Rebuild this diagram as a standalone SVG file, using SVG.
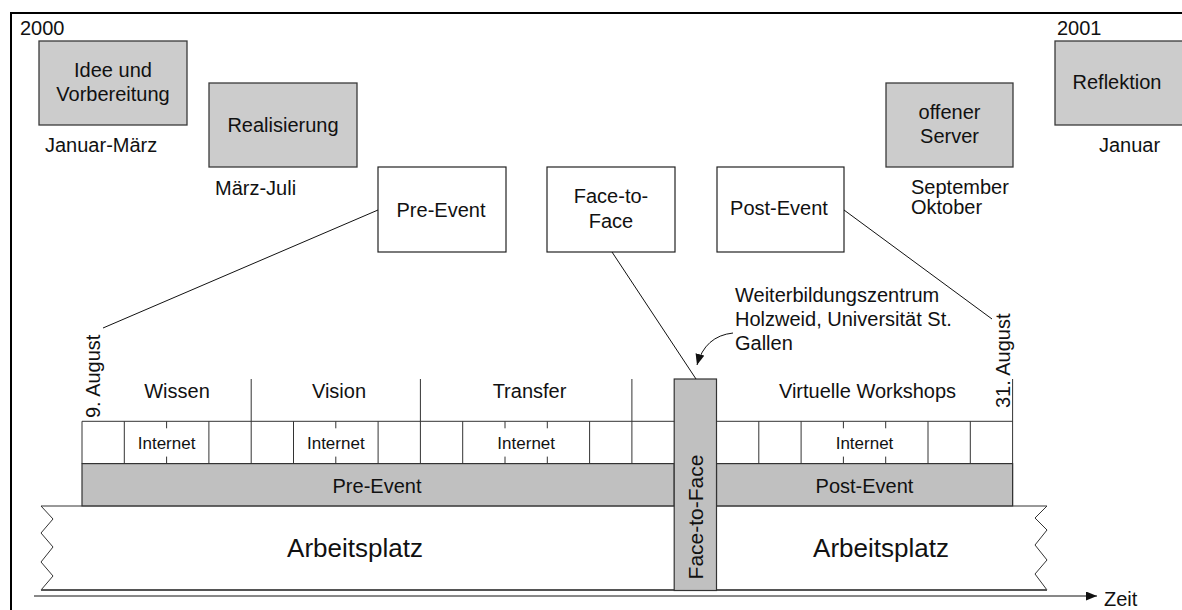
<svg xmlns="http://www.w3.org/2000/svg" width="1182" height="610" viewBox="0 0 1182 610">
  <style>
    text { font-family: "Liberation Sans", Arial, sans-serif; fill: #111; }
    .t20 { font-size: 20px; }
    .t17 { font-size: 17px; }
    .t26 { font-size: 26px; }
    .mid { text-anchor: middle; }
    .gbox { fill: #cccccc; stroke: #3a3a3a; stroke-width: 1.3; }
    .wbox { fill: #ffffff; stroke: #222222; stroke-width: 1.2; }
    .band { fill: #c0c0c0; stroke: #333333; stroke-width: 1.2; }
    .grid { stroke: #333333; stroke-width: 1; fill: none; }
    .conn { stroke: #111111; stroke-width: 1; fill: none; }
    .frame { stroke: #000000; stroke-width: 2; fill: none; }
  </style>
  <defs>
    <marker id="arrowHead" markerUnits="userSpaceOnUse" markerWidth="12" markerHeight="10" refX="11" refY="4.5" orient="auto">
      <path d="M0,0 L11,4.5 L0,9 z" fill="#111111"/>
    </marker>
  </defs>

  <rect width="1182" height="610" fill="#ffffff"/>
  <path class="frame" d="M11,610 V13 H1182"/>

  <!-- year labels -->
  <text class="t20" x="20" y="35">2000</text>
  <text class="t20" x="1057" y="35">2001</text>

  <!-- project phases -->
  <g id="phase-idee">
    <rect class="gbox" x="39" y="41" width="148" height="84"/>
    <text class="t20 mid" x="113" y="77">Idee und</text>
    <text class="t20 mid" x="113" y="101">Vorbereitung</text>
    <text class="t20" x="45" y="152">Januar-März</text>
  </g>
  <g id="phase-realisierung">
    <rect class="gbox" x="209" y="83" width="148" height="84"/>
    <text class="t20 mid" x="283" y="132">Realisierung</text>
    <text class="t20" x="215" y="195">März-Juli</text>
  </g>
  <g id="phase-server">
    <rect class="gbox" x="886" y="83" width="127" height="84"/>
    <text class="t20 mid" x="949.5" y="119">offener</text>
    <text class="t20 mid" x="949.5" y="143">Server</text>
    <text class="t20" x="911" y="194">September</text>
    <text class="t20" x="911" y="214">Oktober</text>
  </g>
  <g id="phase-reflektion">
    <rect class="gbox" x="1055" y="41" width="128" height="84"/>
    <text class="t20 mid" x="1117" y="89">Reflektion</text>
    <text class="t20 mid" x="1129.5" y="152">Januar</text>
  </g>

  <!-- event stages -->
  <g id="stage-pre">
    <rect class="wbox" x="378" y="167" width="128" height="85"/>
    <text class="t20 mid" x="441" y="217">Pre-Event</text>
  </g>
  <g id="stage-f2f">
    <rect class="wbox" x="547" y="167" width="128" height="85"/>
    <text class="t20 mid" x="611" y="203">Face-to-</text>
    <text class="t20 mid" x="611" y="228">Face</text>
  </g>
  <g id="stage-post">
    <rect class="wbox" x="717" y="167" width="127" height="85"/>
    <text class="t20 mid" x="779" y="215">Post-Event</text>
  </g>

  <!-- workplace background -->
  <g id="arbeitsplatz">
    <path d="M41,506 H1047 L1035,518 L1047,530 L1035,545 L1047,560 L1035,574 L1047,590 H41 L53,576 L41,562 L53,547 L41,533 L53,519 Z" fill="#ffffff" stroke="#333333" stroke-width="1"/>
    <line x1="41" y1="590" x2="1047" y2="590" stroke="#555555" stroke-width="2"/>
    <text class="t26 mid" x="355" y="557">Arbeitsplatz</text>
    <text class="t26 mid" x="881" y="557">Arbeitsplatz</text>
  </g>

  <!-- online phase bands -->
  <g id="band-pre">
    <rect class="band" x="82" y="463.6" width="592.2" height="42.3"/>
    <text class="t20 mid" x="377" y="493">Pre-Event</text>
  </g>
  <g id="band-post">
    <rect class="band" x="716.5" y="463.6" width="296.1" height="42.3"/>
    <text class="t20 mid" x="864.5" y="493">Post-Event</text>
  </g>

  <!-- internet cell strip and session row -->
  <g id="strip">
    <path class="grid" d="M82,421.3 H1012.6 M82,421.3 V463.6 M1012.6,379 V505.9"/>
    <path class="grid" d="M124.3,421.3 V463.6 M208.9,421.3 V463.6 M251.2,421.3 V463.6 M293.5,421.3 V463.6 M378.1,421.3 V463.6 M420.4,421.3 V463.6 M462.7,421.3 V463.6 M589.6,421.3 V463.6 M631.9,421.3 V463.6 M758.8,421.3 V463.6 M801.1,421.3 V463.6 M928,421.3 V463.6 M970.3,421.3 V463.6"/>
    <path class="grid" d="M166.6,421.3 v7 M166.6,463.6 v-7 M335.8,421.3 v7 M335.8,463.6 v-7 M505,421.3 v7 M505,463.6 v-7 M547.3,421.3 v7 M547.3,463.6 v-7 M843.4,421.3 v7 M843.4,463.6 v-7 M885.7,421.3 v7 M885.7,463.6 v-7"/>
    <path class="grid" d="M251.2,379 V421.3 M420.4,379 V421.3 M631.9,379 V421.3"/>
    <text class="t17 mid" x="166.6" y="448.5">Internet</text>
    <text class="t17 mid" x="335.8" y="448.5">Internet</text>
    <text class="t17 mid" x="526.2" y="448.5">Internet</text>
    <text class="t17 mid" x="864.5" y="448.5">Internet</text>
    <text class="t20 mid" x="177" y="398">Wissen</text>
    <text class="t20 mid" x="339" y="398">Vision</text>
    <text class="t20 mid" x="529.5" y="398">Transfer</text>
    <text class="t20 mid" x="867.5" y="398">Virtuelle Workshops</text>
    <text class="t20" transform="translate(99.5,418) rotate(-90)">9. August</text>
    <text class="t20" transform="translate(1009.5,408) rotate(-90)">31. August</text>
  </g>

  <!-- face-to-face bar -->
  <g id="bar-f2f">
    <rect class="band" x="674.2" y="379" width="42.3" height="211.5"/>
    <text class="mid" font-size="21" transform="translate(703,517) rotate(-90)">Face-to-Face</text>
  </g>

  <!-- venue note -->
  <g id="venue">
    <text class="t20" x="735" y="302">Weiterbildungszentrum</text>
    <text class="t20" x="735" y="326">Holzweid, Universität St.</text>
    <text class="t20" x="735" y="350">Gallen</text>
  </g>

  <!-- connectors -->
  <g id="connectors">
    <line class="conn" x1="378" y1="210" x2="103" y2="328"/>
    <line class="conn" x1="612" y1="252" x2="696" y2="379"/>
    <line class="conn" x1="844" y1="210" x2="992" y2="319"/>
    <path class="conn" d="M733,333 Q705,336 697,365" marker-end="url(#arrowHead)"/>
    <line class="conn" x1="34" y1="596" x2="1097" y2="596" marker-end="url(#arrowHead)"/>
    <text class="t20" x="1104" y="606">Zeit</text>
  </g>
</svg>
